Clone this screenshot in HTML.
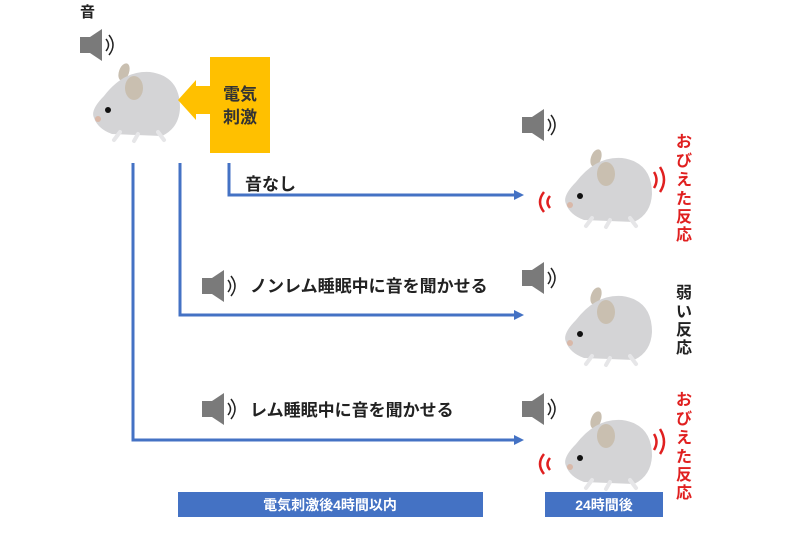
<!DOCTYPE html>
<html><head><meta charset="utf-8"><style>
body{margin:0;background:#fff;}
svg{display:block;font-family:"Liberation Sans","Noto Sans CJK JP",sans-serif;}
</style></head><body>
<svg width="800" height="542" viewBox="0 0 800 542" xmlns="http://www.w3.org/2000/svg">
<defs>
<g id="mouse">
<ellipse cx="34" cy="6" rx="5" ry="9" fill="#c9bfb0" transform="rotate(20 34 6)"/>
<path d="M4,52 Q0,44 14,30 Q34,4 60,6 Q90,10 90,42 Q89,62 72,70 L22,68 Q8,63 4,52Z" fill="#d4d4d6"/>
<ellipse cx="44" cy="22" rx="9" ry="12" fill="#c9bfb0"/>
<circle cx="18" cy="44" r="3" fill="#111"/>
<circle cx="8" cy="53" r="3" fill="#d9b8a8"/>
<path d="M30,66 L24,74 M48,68 L44,75 M68,66 L74,74" stroke="#e6e6e8" stroke-width="4" stroke-linecap="round"/>
</g>
<g id="spk">
<rect x="0" y="8" width="10" height="16" fill="#7a7a7a"/>
<path d="M10,8 L22,0 L22,32 L10,24Z" fill="#7a7a7a"/>
<path d="M26,10 Q31,16 26,22" stroke="#222" stroke-width="1.5" fill="none"/>
<path d="M29,6 Q37,16 29,26" stroke="#222" stroke-width="1.5" fill="none"/>
</g>
<g id="shake" stroke="#e02020" stroke-width="2.5" fill="none">
<path d="M-18,40 Q-26,50 -18,60"/><path d="M-12,44 Q-17,50 -12,56"/>
<path d="M98,15 Q106,28 98,40"/><path d="M92,20 Q97,28 92,36"/>
</g>
</defs>

<text x="80" y="17" font-size="15" font-weight="bold" fill="#222">音</text>
<use href="#spk" x="80" y="29"/>
<use href="#mouse" x="90" y="66"/>

<rect x="210" y="57" width="60" height="96" fill="#ffc000"/>
<path d="M212,86 L196,86 L196,80 L178,100 L196,120 L196,114 L212,114Z" fill="#ffc000"/>
<text x="240" y="100" font-size="17" font-weight="bold" text-anchor="middle" fill="#333">電気</text>
<text x="240" y="123" font-size="17" font-weight="bold" text-anchor="middle" fill="#333">刺激</text>

<g stroke="#4472c4" stroke-width="3" fill="none">
<path d="M133,163 V440 H516"/>
<path d="M180,163 V315 H516"/>
<path d="M229,163 V195 H516"/>
</g>
<g fill="#4472c4">
<path d="M524,195 L514,190 L514,200Z"/>
<path d="M524,315 L514,310 L514,320Z"/>
<path d="M524,440 L514,435 L514,445Z"/>
</g>

<g font-size="17" font-weight="bold" fill="#222">
<text x="245" y="190">音なし</text>
<text x="250" y="292">ノンレム睡眠中に音を聞かせる</text>
<text x="250" y="416">レム睡眠中に音を聞かせる</text>
</g>
<use href="#spk" x="202" y="270"/>
<use href="#spk" x="202" y="393"/>

<use href="#spk" x="522" y="109"/>
<use href="#spk" x="522" y="262"/>
<use href="#spk" x="522" y="393"/>

<use href="#shake" x="562" y="152"/>
<use href="#mouse" x="562" y="152"/>
<use href="#mouse" x="562" y="290"/>
<use href="#shake" x="562" y="414"/>
<use href="#mouse" x="562" y="414"/>

<g font-size="16" font-weight="bold" text-anchor="middle" fill="#e02020">
<text x="684" y="147">お</text><text x="684" y="166">び</text><text x="684" y="185">え</text><text x="684" y="204">た</text><text x="684" y="222">反</text><text x="684" y="240">応</text>
<text x="684" y="405">お</text><text x="684" y="424">び</text><text x="684" y="443">え</text><text x="684" y="462">た</text><text x="684" y="480">反</text><text x="684" y="498">応</text>
</g>
<g font-size="16" font-weight="bold" text-anchor="middle" fill="#222">
<text x="684" y="298">弱</text><text x="684" y="317">い</text><text x="684" y="335">反</text><text x="684" y="353">応</text>
</g>

<rect x="178" y="492" width="305" height="25" fill="#4472c4"/>
<text x="330" y="510" font-size="14" font-weight="bold" text-anchor="middle" fill="#fff">電気刺激後4時間以内</text>
<rect x="545" y="492" width="118" height="25" fill="#4472c4"/>
<text x="604" y="510" font-size="14" font-weight="bold" text-anchor="middle" fill="#fff">24時間後</text>
</svg>
</body></html>
